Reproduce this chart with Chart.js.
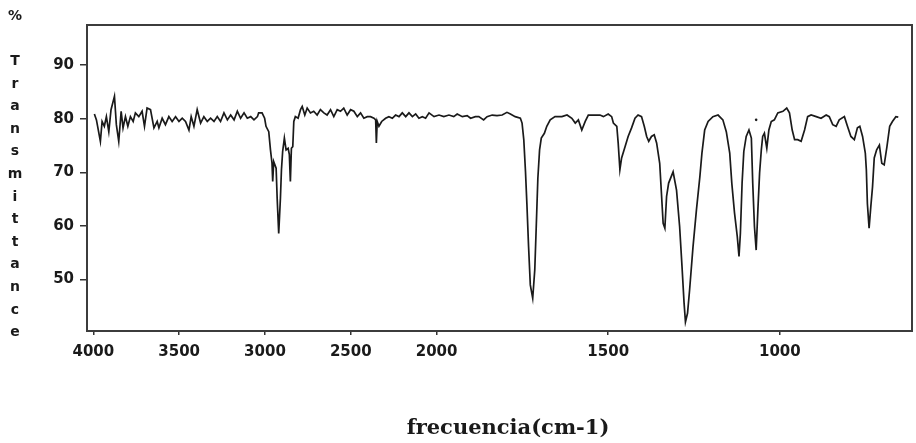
<!DOCTYPE html>
<html>
  <head>
    <title>Espectro IR</title>
    <script src="https://cdn.jsdelivr.net/npm/chart.js"></script>
    <style>
      body { margin: 0; background: #fff; }
      #wrap { width: 916px; height: 443px; }
    </style>
  </head>
  <body>
    <div id="wrap"><canvas id="myChart"></canvas></div>

    <script>
      // spectrum, cm-1 vs %T
      const wavenumbers = [
        3994, 3982, 3959, 3949, 3936, 3924, 3910, 3897, 3877, 3866, 3852, 3838, 3827, 3813, 3799, 3784,
        3768, 3755, 3735, 3716, 3702, 3687, 3667, 3647, 3628, 3618, 3599, 3580, 3560, 3541, 3521, 3501,
        3482, 3463, 3443, 3430, 3414, 3395, 3375, 3356, 3336, 3317, 3297, 3278, 3259, 3239, 3219, 3200,
        3180, 3161, 3142, 3122, 3103, 3083, 3064, 3044, 3037, 3017, 3002, 2994, 2978, 2968, 2959, 2955,
        2949, 2935, 2929, 2920, 2910, 2904, 2897, 2887, 2877, 2865, 2858, 2852, 2846, 2838, 2832, 2823,
        2807, 2793, 2783, 2768, 2754, 2735, 2716, 2696, 2677, 2657, 2638, 2618, 2599, 2579, 2560, 2541,
        2521, 2501, 2482, 2462, 2443, 2424, 2404, 2385, 2365, 2355, 2351, 2346, 2336, 2320, 2297, 2278,
        2258, 2239, 2219, 2200, 2180, 2161, 2141, 2122, 2103, 2083, 2064, 2044, 2015, 1993, 1979, 1964,
        1950, 1940, 1925, 1911, 1901, 1887, 1877, 1863, 1853, 1838, 1824, 1809, 1795, 1785, 1771, 1756,
        1751, 1746, 1741, 1737, 1732, 1727, 1720, 1714, 1710, 1705, 1700, 1695, 1686, 1679, 1669, 1655,
        1635, 1620, 1606, 1596, 1587, 1577, 1567, 1558, 1543, 1524, 1514, 1500, 1490, 1485, 1475, 1471,
        1466, 1461, 1451, 1442, 1432, 1422, 1413, 1403, 1395, 1388, 1382, 1374, 1366, 1359, 1350, 1345,
        1340, 1335, 1330, 1324, 1311, 1301, 1292, 1285, 1279, 1275, 1269, 1263, 1253, 1243, 1233, 1227,
        1219, 1209, 1195, 1180, 1166, 1156, 1146, 1140, 1132, 1124, 1119, 1115, 1110, 1105, 1098, 1090,
        1083, 1079, 1074, 1069, 1064, 1059, 1054, 1050, 1045, 1038, 1032, 1025, 1016, 1006, 991, 980,
        972, 964, 957, 948, 938, 928, 919, 909, 894, 880, 865, 856, 846, 836, 827, 812,
        803, 793, 783, 774, 767, 759, 751, 748, 745, 740, 735, 730, 725, 718, 710, 703,
        696, 688, 680, 672, 662, 655
      ];
      const transmittance = [
        80.9, 79.8, 75.8, 79.5, 78.6, 80.4, 77.6, 81.7, 84.2, 78.9, 75.8, 81.4, 78.3, 80.4, 78.6, 80.4,
        79.5, 81.1, 80.4, 81.4, 78.6, 82.0, 81.7, 78.3, 79.5, 78.3, 80.1, 78.9, 80.4, 79.5, 80.4, 79.5,
        80.1, 79.5, 77.9, 80.4, 78.6, 81.7, 79.2, 80.4, 79.5, 80.1, 79.5, 80.4, 79.5, 81.1, 79.8, 80.7,
        79.8, 81.4, 80.1, 81.1, 80.1, 80.4, 79.8, 80.4, 81.1, 81.1, 80.1, 78.6, 77.6, 74.2, 71.7, 68.3,
        72.0, 70.8, 65.2, 58.6, 65.2, 70.5, 73.9, 76.4, 74.2, 74.5, 73.3, 68.3, 74.5, 74.8, 79.5, 80.4,
        80.1, 81.7, 82.3, 80.7, 82.0, 81.1, 81.4, 80.7, 81.7, 81.1, 80.7, 81.7, 80.4, 81.7, 81.4, 82.0,
        80.7, 81.7, 81.4, 80.4, 81.1, 80.1, 80.4, 80.4, 80.1, 79.8, 75.5, 79.5, 78.6, 79.5, 80.1, 80.4,
        80.1, 80.7, 80.4, 81.1, 80.4, 81.1, 80.4, 80.9, 80.1, 80.4, 80.1, 81.1, 80.4, 80.7, 80.4, 80.7,
        80.4, 80.9, 80.4, 80.6, 80.1, 80.4, 80.4, 79.8, 80.4, 80.7, 80.6, 80.7, 81.2, 80.9, 80.4, 80.1,
        79.2, 76.1, 70.1, 64.2, 56.1, 49.0, 46.5, 51.8, 59.3, 68.9, 74.2, 76.4, 77.3, 78.6, 79.8, 80.4,
        80.4, 80.7, 80.1, 79.2, 79.8, 77.9, 79.5, 80.7, 80.7, 80.7, 80.4, 80.9, 80.4, 79.2, 78.6, 75.5,
        70.5, 72.7, 74.8, 76.7, 78.3, 80.1, 80.7, 80.4, 78.6, 76.7, 75.8, 76.7, 77.0, 75.5, 71.7, 66.1,
        60.5, 59.6, 65.5, 68.0, 70.1, 66.7, 59.9, 52.4, 45.6, 42.1, 43.7, 48.0, 56.1, 63.0, 69.2, 73.6,
        77.9, 79.5, 80.4, 80.7, 79.8, 77.6, 73.6, 68.0, 62.4, 58.0, 54.3, 58.6, 68.0, 73.9, 76.7, 77.9,
        76.4, 68.0, 59.9, 55.5, 63.0, 69.9, 74.2, 76.7, 77.3, 74.5, 77.9, 79.5, 79.8, 81.1, 81.4, 82.0,
        81.1, 77.9, 76.1, 76.1, 75.8, 77.9, 80.4, 80.7, 80.4, 80.1, 80.7, 80.4, 78.9, 78.6, 79.8, 80.4,
        78.6, 76.7, 76.1, 78.3, 78.6, 76.7, 73.6, 70.5, 64.2, 59.6, 63.6, 67.3, 72.7, 74.2, 75.1, 71.7,
        71.4, 74.8, 78.6, 79.5, 80.4, 80.3
      ];
      // lone dot printed above the 1069 band
      const dotWavenumbers = [1069];
      const dotTransmittance = [79.8];

      const xTicks = [4000, 3500, 3000, 2500, 2000, 1500, 1000];
      const yTicks = [50, 60, 70, 80, 90];
      const xTitle = 'frecuencia(cm-1)';
      const yUnit = '%';
      const yTitle = 'Transmittance';

      const SPLIT = 2000; // below this the axis is stretched x2

      class WavenumberScale extends Chart.LinearScale {
        static id = 'wavenumber';
        warp(v) { return v >= SPLIT ? v : SPLIT - (SPLIT - v) * 2; }
        unwarp(w) { return w >= SPLIT ? w : SPLIT - (SPLIT - w) / 2; }
        getPixelForValue(value) {
          if (value === null || value === undefined) return NaN;
          const a = this.warp(this.min), b = this.warp(this.max);
          return this.getPixelForDecimal((this.warp(value) - a) / (b - a));
        }
        getValueForPixel(pixel) {
          const a = this.warp(this.min), b = this.warp(this.max);
          return this.unwarp(a + this.getDecimalForPixel(pixel) * (b - a));
        }
      }
      Chart.register(WavenumberScale);

      const ink = '#1a1a1a';

      const frame = {
        id: 'frame',
        afterDraw(chart) {
          const { ctx, chartArea: a } = chart;
          ctx.save();
          ctx.strokeStyle = '#3c3c3c';
          ctx.lineWidth = 2;
          ctx.strokeRect(a.left, a.top, a.right - a.left, a.bottom - a.top);

          ctx.fillStyle = ink;
          ctx.textAlign = 'center';
          ctx.textBaseline = 'alphabetic';
          ctx.font = 'bold 14px "DejaVu Sans"';
          ctx.fillText(yUnit, 15, 20);
          yTitle.split('').forEach((ch, i) => ctx.fillText(ch, 15, 65 + i * 22.6));

          ctx.font = 'bold 21px "DejaVu Serif"';
          ctx.fillText(xTitle, 508, 434);
          ctx.restore();
        }
      };

      const spectrum = wavenumbers.map((w, i) => ({ x: w, y: transmittance[i] }));
      const dots = dotWavenumbers.map((w, i) => ({ x: w, y: dotTransmittance[i] }));

      new Chart(document.getElementById('myChart'), {
        type: 'line',
        data: {
          datasets: [{
            data: spectrum,
            borderColor: ink,
            borderWidth: 1.7,
            pointRadius: 0,
            tension: 0
          }, {
            data: dots,
            showLine: false,
            pointRadius: 1.3,
            pointBackgroundColor: ink,
            pointBorderWidth: 0
          }]
        },
        options: {
          responsive: true,
          maintainAspectRatio: false,
          animation: false,
          layout: { padding: { left: 0, right: 4, top: 25, bottom: 0 } },
          plugins: { legend: { display: false }, tooltip: { enabled: false } },
          scales: {
            x: {
              type: 'wavenumber',
              reverse: true,
              min: 615,
              max: 4037,
              afterBuildTicks: s => { s.ticks = xTicks.map(v => ({ value: v })); },
              afterFit: s => { s.height = 112; },
              border: { display: false },
              grid: { display: true, drawOnChartArea: false, tickLength: 4, color: '#333', lineWidth: 1.5 },
              ticks: {
                autoSkip: false,
                maxRotation: 0,
                padding: 8,
                color: ink,
                font: { family: 'DejaVu Sans', weight: 'bold', size: 15 },
                callback: v => String(v)
              }
            },
            y: {
              min: 40.4,
              max: 97.5,
              afterBuildTicks: s => { s.ticks = yTicks.map(v => ({ value: v })); },
              afterFit: s => { s.width = 87; },
              border: { display: false },
              grid: { display: true, drawOnChartArea: false, tickLength: 7, color: '#333', lineWidth: 1.5 },
              ticks: {
                padding: 6,
                color: ink,
                font: { family: 'DejaVu Sans', weight: 'bold', size: 15 },
                callback: v => String(v)
              }
            }
          }
        },
        plugins: [frame]
      });
    </script>
  </body>
</html>
